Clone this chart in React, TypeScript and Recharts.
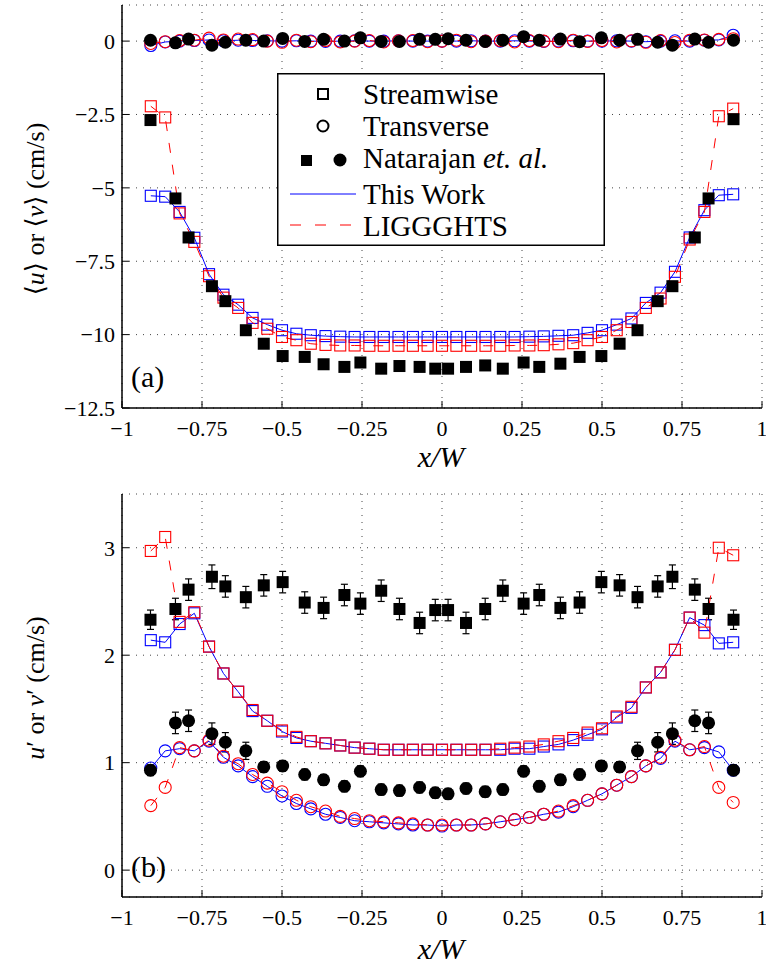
import React from "react";
import {
  ComposedChart,
  Scatter,
  XAxis,
  YAxis,
  CartesianGrid,
  ErrorBar,
  Legend,
  Customized,
} from "recharts";

// x positions (x/W) of the simulation bins and the experimental points
const simX = [
  -0.91, -0.865, -0.82, -0.774, -0.728, -0.683, -0.637, -0.592, -0.546, -0.5,
  -0.455, -0.41, -0.364, -0.318, -0.273, -0.227, -0.182, -0.136, -0.091, -0.045,
  0, 0.045, 0.091, 0.136, 0.182, 0.227, 0.273, 0.318, 0.364, 0.41, 0.455, 0.5,
  0.546, 0.592, 0.637, 0.683, 0.728, 0.774, 0.82, 0.865, 0.91,
];
const expX = [
  -0.911, -0.833, -0.792, -0.719, -0.677, -0.613, -0.557, -0.498, -0.429, -0.37,
  -0.305, -0.255, -0.19, -0.133, -0.07, -0.021, 0.019, 0.075, 0.135, 0.19, 0.255,
  0.304, 0.37, 0.43, 0.498, 0.555, 0.611, 0.674, 0.72, 0.79, 0.833, 0.911,
];

const xTicks = [-1, -0.75, -0.5, -0.25, 0, 0.25, 0.5, 0.75, 1];
const meanTicks = [-12.5, -10, -7.5, -5, -2.5, 0];
const rmsTicks = [0, 1, 2, 3];

// (a) mean velocities
const uMeanThisWork = [
  -5.27, -5.3, -5.82, -6.7, -7.94, -8.64, -8.98, -9.43, -9.66, -9.85, -9.97,
  -10.02, -10.05, -10.07, -10.08, -10.08, -10.08, -10.08, -10.08, -10.08, -10.08,
  -10.08, -10.08, -10.08, -10.08, -10.08, -10.07, -10.06, -10.04, -10.02, -9.94,
  -9.85, -9.66, -9.45, -8.92, -8.57, -7.86, -6.69, -5.76, -5.25, -5.22,
];
const uMeanLiggghts = [
  -2.22, -2.6, -5.87, -6.84, -8.01, -8.74, -9.09, -9.6, -9.8, -10.08, -10.19,
  -10.31, -10.35, -10.37, -10.37, -10.38, -10.38, -10.38, -10.38, -10.38, -10.38,
  -10.38, -10.38, -10.38, -10.38, -10.37, -10.37, -10.36, -10.33, -10.29, -10.19,
  -10.08, -9.85, -9.57, -9.09, -8.77, -8.03, -6.76, -5.82, -2.56, -2.3,
];
const vMeanThisWork = [
  -0.15, -0.03, 0.0, 0.02, 0.04, 0.01, 0.03, 0.02, 0.01, 0.0, 0.01, 0.0, -0.01,
  0.0, 0.01, 0.0, 0.0, 0.01, 0.0, 0.0, 0.0, 0.0, 0.01, 0.0, 0.0, 0.01, 0.0,
  -0.01, 0.0, 0.01, 0.0, 0.0, 0.01, 0.0, -0.02, 0.0, 0.01, 0.0, 0.03, 0.04, 0.2,
];
const vMeanLiggghts = [
  -0.08, -0.02, 0.02, 0.03, 0.1, 0.04, 0.07, 0.05, 0.0, -0.04, 0.03, -0.02, 0.02,
  -0.03, 0.0, 0.02, -0.03, 0.01, 0.02, -0.02, 0.0, 0.03, -0.02, 0.0, 0.02, -0.03,
  0.02, 0.0, -0.02, 0.03, -0.01, 0.02, -0.03, 0.01, -0.04, 0.02, -0.05, 0.03,
  0.04, 0.06, 0.08,
];
const uMeanExp = [
  -2.69, -5.36, -6.69, -8.35, -8.86, -9.85, -10.31, -10.73, -10.76, -11.01, -11.1,
  -10.95, -11.16, -11.07, -11.1, -11.16, -11.16, -11.1, -11.05, -11.16, -10.95,
  -11.1, -10.99, -10.76, -10.73, -10.31, -9.85, -8.86, -8.35, -6.69, -5.36, -2.66,
];
const vMeanExp = [
  0.03, -0.06, 0.07, -0.14, -0.04, 0.03, 0.0, 0.09, -0.01, 0.06, 0.0, 0.11, -0.01,
  -0.01, 0.06, 0.06, 0.08, 0.03, -0.01, 0.03, 0.15, 0.03, 0.07, -0.02, 0.11, 0.03,
  0.06, -0.04, -0.14, 0.07, -0.04, 0.03,
];

// (b) rms velocities
const uRmsThisWork = [
  2.14, 2.12, 2.29, 2.39, 2.08, 1.83, 1.66, 1.48, 1.39, 1.29, 1.23, 1.2, 1.18,
  1.16, 1.14, 1.13, 1.12, 1.12, 1.12, 1.12, 1.12, 1.12, 1.12, 1.12, 1.12, 1.13,
  1.13, 1.15, 1.17, 1.21, 1.26, 1.31, 1.42, 1.51, 1.7, 1.84, 2.05, 2.35, 2.28,
  2.11, 2.12,
];
const uRmsLiggghts = [
  2.97, 3.1, 2.31, 2.4, 2.08, 1.83, 1.66, 1.49, 1.39, 1.3, 1.24, 1.2, 1.18, 1.16,
  1.14, 1.13, 1.12, 1.12, 1.12, 1.12, 1.12, 1.12, 1.12, 1.12, 1.13, 1.14, 1.15,
  1.17, 1.2, 1.23, 1.28, 1.32, 1.43, 1.52, 1.7, 1.84, 2.05, 2.35, 2.21, 3.0, 2.93,
];
const vRmsThisWork = [
  0.95, 1.11, 1.13, 1.11, 1.2, 1.05, 0.97, 0.87, 0.78, 0.69, 0.62, 0.57, 0.52,
  0.49, 0.46, 0.45, 0.44, 0.43, 0.42, 0.42, 0.41, 0.42, 0.42, 0.43, 0.45, 0.47,
  0.49, 0.52, 0.54, 0.59, 0.65, 0.71, 0.79, 0.87, 0.97, 1.04, 1.2, 1.12, 1.14,
  1.1, 0.93,
];
const vRmsLiggghts = [
  0.6, 0.77, 1.14, 1.11, 1.21, 1.06, 0.99, 0.89, 0.81, 0.73, 0.65, 0.59, 0.55,
  0.5, 0.48, 0.46, 0.45, 0.44, 0.43, 0.42, 0.42, 0.42, 0.42, 0.43, 0.45, 0.47,
  0.49, 0.52, 0.55, 0.6, 0.65, 0.71, 0.79, 0.87, 0.97, 1.05, 1.21, 1.12, 1.15,
  0.77, 0.63,
];
const uRmsExp = [
  2.33, 2.43, 2.61, 2.73, 2.64, 2.54, 2.65, 2.68, 2.49, 2.44, 2.56, 2.48, 2.6,
  2.43, 2.3, 2.42, 2.42, 2.3, 2.43, 2.6, 2.48, 2.56, 2.44, 2.49, 2.68, 2.65, 2.54,
  2.64, 2.73, 2.61, 2.43, 2.33,
];
const uRmsExpErr = [
  0.09, 0.1, 0.1, 0.11, 0.1, 0.1, 0.1, 0.1, 0.1, 0.1, 0.1, 0.1, 0.1, 0.1, 0.1,
  0.1, 0.1, 0.1, 0.1, 0.1, 0.1, 0.1, 0.1, 0.1, 0.1, 0.1, 0.1, 0.1, 0.11, 0.1,
  0.1, 0.09,
];
const vRmsExp = [
  0.93, 1.37, 1.39, 1.27, 1.19, 1.11, 0.96, 0.97, 0.89, 0.84, 0.78, 0.92, 0.75,
  0.74, 0.77, 0.72, 0.71, 0.76, 0.73, 0.75, 0.92, 0.78, 0.84, 0.89, 0.97, 0.96,
  1.11, 1.19, 1.27, 1.39, 1.37, 0.93,
];
const vRmsExpErr = [
  0.05, 0.1, 0.1, 0.1, 0.09, 0.08, 0.05, 0.05, 0.05, 0.05, 0.05, 0.05, 0.05, 0.05,
  0.05, 0.05, 0.05, 0.05, 0.05, 0.05, 0.05, 0.05, 0.05, 0.05, 0.05, 0.05, 0.08,
  0.09, 0.1, 0.1, 0.1, 0.05,
];

const SERIF = "Liberation Serif, Tinos, DejaVu Serif, Noto Serif, serif";
const BLUE = "#0000ff";
const RED = "#ff0000";

const pts = (xs: number[], ys: number[], errs?: number[]) =>
  xs.map((x, i) => ({ x, y: ys[i], err: errs ? errs[i] : 0 }));

const fmt = (v: number) => String(v).replace("-", "\u2212");

const openSquare = (color: string) => (p: any) =>
  <rect x={p.cx - 5.5} y={p.cy - 5.5} width={11} height={11} fill="none" stroke={color} strokeWidth={1.1} />;
const openCircle = (color: string) => (p: any) =>
  <circle cx={p.cx} cy={p.cy} r={6} fill="none" stroke={color} strokeWidth={1.1} />;
const filledSquare = (p: any) =>
  <rect x={p.cx - 6} y={p.cy - 6} width={12} height={12} fill="#000" />;
const filledCircle = (p: any) => <circle cx={p.cx} cy={p.cy} r={6.5} fill="#000" />;

const blueLine = { stroke: BLUE, strokeWidth: 1, fill: "none" };
const redLine = { stroke: RED, strokeWidth: 1, strokeDasharray: "10 12", fill: "none" };

const tickStyle = { fill: "#000", fontSize: 22, style: { fontFamily: SERIF } };
const boxLine = { stroke: "#000", strokeWidth: 1.5 };

// box, grid and axes shared by both panels
const frame = (domain: number[], yTicks: number[]) => [
  <CartesianGrid key="grid" stroke="#444" strokeDasharray="1 6" />,
  <XAxis key="xb" type="number" dataKey="x" domain={[-1, 1]} ticks={xTicks} interval={0}
    allowDataOverflow tickFormatter={fmt} tick={tickStyle} tickSize={-7} tickMargin={19}
    axisLine={boxLine} tickLine={{ stroke: "#000" }} height={40} />,
  <XAxis key="xt" xAxisId="top" orientation="top" type="number" domain={[-1, 1]} ticks={xTicks}
    interval={0} allowDataOverflow tick={false} tickSize={-7} axisLine={boxLine}
    tickLine={{ stroke: "#000" }} height={0} />,
  <YAxis key="yl" type="number" dataKey="y" domain={domain} ticks={yTicks} interval={0}
    allowDataOverflow tickFormatter={fmt} tick={tickStyle} tickSize={-7} tickMargin={14}
    axisLine={boxLine} tickLine={{ stroke: "#000" }} width={60} />,
  <YAxis key="yr" yAxisId="right" orientation="right" type="number" domain={domain} ticks={yTicks}
    interval={0} allowDataOverflow tick={false} tickSize={-7} axisLine={boxLine}
    tickLine={{ stroke: "#000" }} width={0} />,
];

const LegendBox = () => (
  <svg width={328} height={173} style={{ display: "block" }}>
    <rect x={0.75} y={0.75} width={326.5} height={171.5} fill="#fff" stroke="#000" strokeWidth={1.5} />
    <rect x={41} y={16} width={10} height={10} fill="none" stroke="#000" strokeWidth={2} />
    <circle cx={46} cy={53} r={5.5} fill="none" stroke="#000" strokeWidth={2} />
    <rect x={24} y={82} width={11} height={11} fill="#000" />
    <circle cx={63} cy={87} r={6.5} fill="#000" />
    <line x1={13} y1={121} x2={79} y2={121} stroke={BLUE} strokeWidth={1} />
    <line x1={13} y1={152} x2={79} y2={152} stroke={RED} strokeWidth={1} strokeDasharray="11 14" />
    <g style={{ fontFamily: SERIF, fontSize: 29 }} fill="#000">
      <text x={86} y={31}>Streamwise</text>
      <text x={86} y={63}>Transverse</text>
      <text x={86} y={95}>Natarajan <tspan fontStyle="italic">et.</tspan> <tspan fontStyle="italic">al.</tspan></text>
      <text x={86} y={131}>This Work</text>
      <text x={86} y={163}>LIGGGHTS</text>
    </g>
  </svg>
);

const TitlesA = () => (
  <g style={{ fontFamily: SERIF }} fill="#000">
    <text transform="translate(35,209) rotate(-90)" textAnchor="middle" dominantBaseline="central" fontSize={26}>
      {"\u27E8"}<tspan fontStyle="italic">u</tspan>{"\u27E9 or \u27E8"}<tspan fontStyle="italic">v</tspan>{"\u27E9 (cm/s)"}
    </text>
    <text x={441} y={467} textAnchor="middle" fontSize={30} fontStyle="italic">x/W</text>
    <text x={131} y={387} fontSize={30}>(a)</text>
  </g>
);

const TitlesB = () => (
  <g style={{ fontFamily: SERIF }} fill="#000">
    <text transform="translate(35,203) rotate(-90)" textAnchor="middle" dominantBaseline="central" fontSize={26}>
      <tspan fontStyle="italic">u</tspan>{"\u2032 or "}<tspan fontStyle="italic">v</tspan>{"\u2032 (cm/s)"}
    </text>
    <text x={441} y={474} textAnchor="middle" fontSize={30} fontStyle="italic">x/W</text>
    <text x={131} y={392} fontSize={30}>(b)</text>
  </g>
);

export default function App() {
  return (
    <div style={{ position: "absolute", left: 0, top: 0, width: 766, height: 970, background: "#fff", fontFamily: SERIF }}>
      <div style={{ position: "absolute", left: 0, top: 0 }}>
        <ComposedChart width={766} height={480} margin={{ top: 5, right: 4, bottom: 32, left: 62 }}>
          {frame([-12.5, 1.23], meanTicks)}
          <Scatter data={pts(simX, uMeanThisWork)} fill={BLUE} line={blueLine} lineType="joint"
            shape={openSquare(BLUE)} isAnimationActive={false} />
          <Scatter data={pts(simX, vMeanThisWork)} fill={BLUE} line={blueLine} lineType="joint"
            shape={openCircle(BLUE)} isAnimationActive={false} />
          <Scatter data={pts(simX, uMeanLiggghts)} fill={RED} line={redLine} lineType="joint"
            shape={openSquare(RED)} isAnimationActive={false} />
          <Scatter data={pts(simX, vMeanLiggghts)} fill={RED} line={redLine} lineType="joint"
            shape={openCircle(RED)} isAnimationActive={false} />
          <Scatter data={pts(expX, uMeanExp)} fill="#000" shape={filledSquare} isAnimationActive={false} />
          <Scatter data={pts(expX, vMeanExp)} fill="#000" shape={filledCircle} isAnimationActive={false} />
          <Legend layout="horizontal" verticalAlign="middle" align="center" content={<LegendBox />}
            wrapperStyle={{ position: "absolute", left: 277, top: 73, width: 328, height: 173 }} />
          <Customized component={TitlesA} />
        </ComposedChart>
      </div>
      <div style={{ position: "absolute", left: 0, top: 485 }}>
        <ComposedChart width={766} height={485} margin={{ top: 9, right: 4, bottom: 33, left: 62 }}>
          {frame([-0.25, 3.5], rmsTicks)}
          <Scatter data={pts(simX, uRmsThisWork)} fill={BLUE} line={blueLine} lineType="joint"
            shape={openSquare(BLUE)} isAnimationActive={false} />
          <Scatter data={pts(simX, vRmsThisWork)} fill={BLUE} line={blueLine} lineType="joint"
            shape={openCircle(BLUE)} isAnimationActive={false} />
          <Scatter data={pts(simX, uRmsLiggghts)} fill={RED} line={redLine} lineType="joint"
            shape={openSquare(RED)} isAnimationActive={false} />
          <Scatter data={pts(simX, vRmsLiggghts)} fill={RED} line={redLine} lineType="joint"
            shape={openCircle(RED)} isAnimationActive={false} />
          <Scatter data={pts(expX, uRmsExp, uRmsExpErr)} fill="#000" shape={filledSquare} isAnimationActive={false}>
            <ErrorBar dataKey="err" direction="y" width={3.5} stroke="#000" strokeWidth={1.2} isAnimationActive={false} />
          </Scatter>
          <Scatter data={pts(expX, vRmsExp, vRmsExpErr)} fill="#000" shape={filledCircle} isAnimationActive={false}>
            <ErrorBar dataKey="err" direction="y" width={3.5} stroke="#000" strokeWidth={1.2} isAnimationActive={false} />
          </Scatter>
          <Customized component={TitlesB} />
        </ComposedChart>
      </div>
    </div>
  );
}
